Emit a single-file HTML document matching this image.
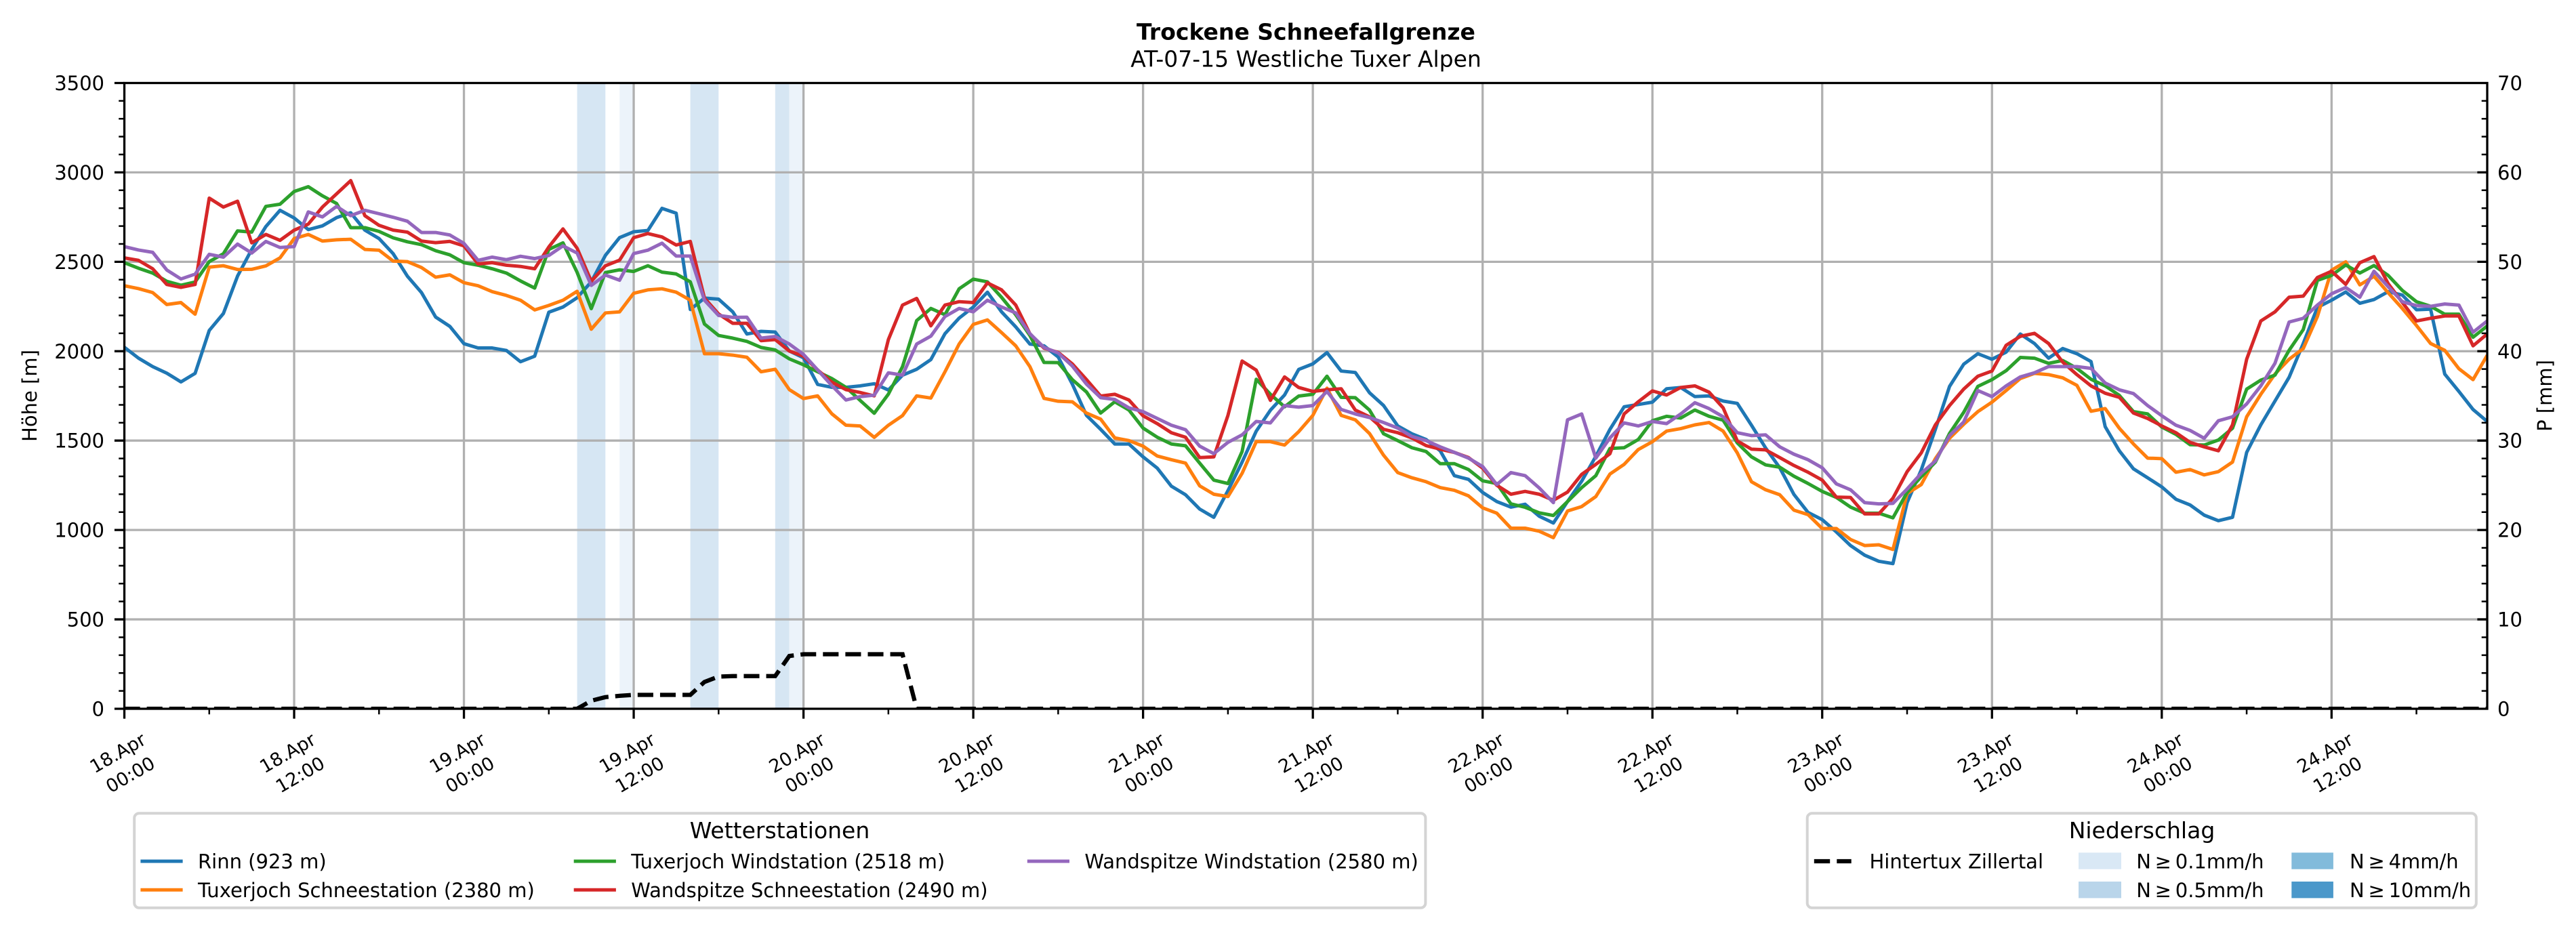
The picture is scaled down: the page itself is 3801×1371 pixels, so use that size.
<!DOCTYPE html>
<html><head><meta charset="utf-8"><style>
html,body{margin:0;padding:0;background:#fff;}
svg{display:block;}
text{font-family:"DejaVu Sans","Liberation Sans",sans-serif;fill:#000;}
</style></head><body>
<svg width="3801" height="1371" viewBox="0 0 3801 1371" xmlns="http://www.w3.org/2000/svg">
<defs><clipPath id="c"><rect x="183.5" y="122.5" width="3486.5" height="923.5"/></clipPath></defs>
<rect x="0" y="0" width="3801" height="1371" fill="#fff"/>
<text x="1927" y="58.3" font-size="33" font-weight="bold" text-anchor="middle">Trockene Schneefallgrenze</text>
<text x="1927" y="98.3" font-size="33" text-anchor="middle">AT-07-15 Westliche Tuxer Alpen</text>
<g fill="#d6e6f3">
<rect x="851.6" y="122.5" width="41.7" height="923.5"/>
<rect x="1018.6" y="122.5" width="41.7" height="923.5"/>
<rect x="1143.8" y="122.5" width="20.9" height="923.5"/>
</g>
<g fill="#ecf3fa">
<rect x="914.2" y="122.5" width="20.9" height="923.5"/>
<rect x="1164.7" y="122.5" width="20.9" height="923.5"/>
</g>
<path stroke="#b0b0b0" stroke-width="3.3" fill="none" d="M434.02,122.5V1046M684.55,122.5V1046M935.07,122.5V1046M1185.6,122.5V1046M1436.12,122.5V1046M1686.64,122.5V1046M1937.17,122.5V1046M2187.69,122.5V1046M2438.22,122.5V1046M2688.74,122.5V1046M2939.26,122.5V1046M3189.79,122.5V1046M3440.31,122.5V1046M183.5,914.07H3670M183.5,782.14H3670M183.5,650.2H3670M183.5,518.3H3670M183.5,386.4H3670M183.5,254.4H3670"/>
<g clip-path="url(#c)">
<g transform="translate(183.5 1046) scale(20.877 -0.26386)" fill="none" stroke-width="5" stroke-linejoin="round">
<polyline vector-effect="non-scaling-stroke" stroke="#1f77b4" points="0,2022 1,1961 2,1914 3,1877 4,1828 5,1876 6,2116 7,2211 8,2420 9,2569 10,2697 11,2788 12,2745 13,2680 14,2701 15,2747 16,2774 17,2677 18,2630 19,2545 20,2420 21,2328 22,2191 23,2139 24,2042 25,2018 26,2018 27,2004 28,1941 29,1972 30,2218 31,2247 32,2299 33,2388 34,2536 35,2635 36,2668 37,2675 38,2799 39,2772 40,2233 41,2297 42,2291 43,2220 44,2096 45,2111 46,2107 47,2001 48,1963 49,1814 50,1798 51,1798 52,1806 53,1818 54,1783 55,1866 56,1899 57,1953 58,2098 59,2185 60,2247 61,2330 62,2220 63,2136 64,2040 65,2030 66,1968 67,1816 68,1641 69,1563 70,1481 71,1481 72,1409 73,1346 74,1245 75,1197 76,1117 77,1071 78,1220 79,1380 80,1553 81,1670 82,1755 83,1898 84,1929 85,1992 86,1889 87,1881 88,1768 89,1696 90,1582 91,1538 92,1506 93,1443 94,1304 95,1283 96,1210 97,1159 98,1128 99,1144 100,1077 101,1039 102,1159 103,1273 104,1412 105,1563 106,1689 107,1702 108,1715 109,1790 110,1797 111,1746 112,1750 113,1721 114,1708 115,1586 116,1459 117,1348 118,1199 119,1098 120,1058 121,989 122,913 123,859 124,825 125,812 126,1153 127,1336 128,1563 129,1803 130,1927 131,1986 132,1955 133,1995 134,2096 135,2043 136,1961 137,2015 138,1986 139,1942 140,1578 141,1443 142,1342 143,1292 144,1241 145,1172 146,1140 147,1083 148,1052 149,1071 150,1434 151,1588 152,1721 153,1854 154,2043 155,2245 156,2285 157,2331 158,2268 159,2289 160,2333 161,2314 162,2232 163,2235 164,1872 165,1775 166,1674 167,1607"/>
<polyline vector-effect="non-scaling-stroke" stroke="#ff7f0e" points="0,2366 1,2350 2,2328 3,2261 4,2272 5,2207 6,2470 7,2478 8,2457 9,2458 10,2477 11,2522 12,2630 13,2653 14,2616 15,2623 16,2626 17,2569 18,2565 19,2504 20,2501 21,2468 22,2414 23,2427 24,2383 25,2366 26,2333 27,2312 28,2285 29,2231 30,2256 31,2285 32,2335 33,2123 34,2214 35,2220 36,2324 37,2343 38,2349 39,2330 40,2285 41,1986 42,1986 43,1978 44,1966 45,1885 46,1899 47,1785 48,1735 49,1750 50,1650 51,1586 52,1582 53,1518 54,1586 55,1640 56,1750 57,1738 58,1885 59,2040 60,2150 61,2175 62,2104 63,2030 64,1914 65,1736 66,1720 67,1717 68,1654 69,1620 70,1515 71,1500 72,1469 73,1414 74,1393 75,1374 76,1247 77,1200 78,1187 79,1317 80,1494 81,1494 82,1475 83,1550 84,1641 85,1793 86,1641 87,1616 88,1540 89,1418 90,1321 91,1292 92,1270 93,1237 94,1222 95,1191 96,1124 97,1094 98,1010 99,1010 100,993 101,957 102,1106 103,1131 104,1187 105,1313 106,1367 107,1450 108,1494 109,1553 110,1567 111,1588 112,1601 113,1553 114,1431 115,1270 116,1225 117,1197 118,1111 119,1086 120,1008 121,1008 122,947 123,913 124,917 125,891 126,1203 127,1254 128,1399 129,1513 130,1591 131,1662 132,1715 133,1780 134,1847 135,1876 136,1869 137,1851 138,1809 139,1664 140,1679 141,1569 142,1481 143,1402 144,1399 145,1323 146,1338 147,1308 148,1326 149,1380 150,1633 151,1759 152,1872 153,1955 154,2015 155,2194 156,2453 157,2500 158,2371 159,2419 160,2327 161,2239 162,2144 163,2043 164,2005 165,1902 166,1841 167,1977"/>
<polyline vector-effect="non-scaling-stroke" stroke="#2ca02c" points="0,2495 1,2464 2,2437 3,2391 4,2369 5,2387 6,2501 7,2545 8,2673 9,2666 10,2810 11,2822 12,2893 13,2920 14,2869 15,2826 16,2691 17,2691 18,2670 19,2634 20,2612 21,2596 22,2562 23,2539 24,2495 25,2481 26,2461 27,2437 28,2393 29,2353 30,2569 31,2606 32,2441 33,2238 34,2440 35,2455 36,2446 37,2478 38,2442 39,2432 40,2388 41,2152 42,2088 43,2073 44,2055 45,2021 46,2007 47,1957 48,1924 49,1885 50,1847 51,1798 52,1725 53,1653 54,1760 55,1914 56,2171 57,2239 58,2204 59,2349 60,2403 61,2388 62,2301 63,2204 64,2088 65,1937 66,1936 67,1841 68,1772 69,1654 70,1717 71,1671 72,1570 73,1519 74,1481 75,1471 76,1374 77,1279 78,1260 79,1439 80,1843 81,1759 82,1689 83,1749 84,1759 85,1860 86,1742 87,1740 88,1671 89,1538 90,1500 91,1460 92,1439 93,1371 94,1371 95,1338 96,1275 97,1260 98,1146 99,1127 100,1096 101,1081 102,1159 103,1237 104,1304 105,1456 106,1460 107,1506 108,1611 109,1636 110,1626 111,1671 112,1636 113,1614 114,1487 115,1409 116,1364 117,1351 118,1301 119,1260 120,1216 121,1182 122,1128 123,1094 124,1094 125,1068 126,1210 127,1298 128,1380 129,1540 130,1658 131,1803 132,1841 133,1891 134,1965 135,1961 136,1932 137,1948 138,1904 139,1843 140,1806 141,1753 142,1662 143,1649 144,1576 145,1535 146,1477 147,1475 148,1503 149,1569 150,1788 151,1838 152,1866 153,2005 154,2121 155,2396 156,2424 157,2482 158,2437 159,2479 160,2424 161,2340 162,2277 163,2251 164,2207 165,2207 166,2078 167,2141"/>
<polyline vector-effect="non-scaling-stroke" stroke="#d62728" points="0,2522 1,2508 2,2461 3,2373 4,2357 5,2373 6,2856 7,2806 8,2839 9,2606 10,2653 11,2620 12,2677 13,2711 14,2806 15,2880 16,2954 17,2758 18,2704 19,2677 20,2666 21,2616 22,2607 23,2614 24,2589 25,2488 26,2495 27,2481 28,2474 29,2461 30,2583 31,2684 32,2576 33,2391 34,2478 35,2509 36,2635 37,2658 38,2639 39,2594 40,2614 41,2297 42,2208 43,2156 44,2156 45,2059 46,2065 47,2001 48,1972 49,1895 50,1827 51,1785 52,1769 53,1750 54,2065 55,2258 56,2295 57,2142 58,2258 59,2277 60,2272 61,2382 62,2343 63,2258 64,2098 65,2017 66,1993 67,1929 68,1841 69,1749 70,1759 71,1727 72,1639 73,1595 74,1544 75,1519 76,1405 77,1409 78,1641 79,1945 80,1894 81,1725 82,1856 83,1797 84,1775 85,1784 86,1790 87,1671 88,1633 89,1563 90,1544 91,1515 92,1472 93,1452 94,1434 95,1405 96,1346 97,1250 98,1200 99,1216 100,1200 101,1166 102,1212 103,1311 104,1367 105,1427 106,1649 107,1717 108,1778 109,1755 110,1797 111,1806 112,1771 113,1683 114,1498 115,1452 116,1448 117,1405 118,1361 119,1323 120,1279 121,1184 122,1182 123,1090 124,1090 125,1178 126,1326 127,1431 128,1588 129,1696 130,1788 131,1860 132,1889 133,2033 134,2083 135,2100 136,2043 137,1939 138,1869 139,1806 140,1765 141,1742 142,1654 143,1624 144,1582 145,1544 146,1490 147,1465 148,1443 149,1588 150,1955 151,2169 152,2220 153,2302 154,2308 155,2412 156,2447 157,2374 158,2495 159,2529 160,2378 161,2273 162,2169 163,2184 164,2197 165,2197 166,2030 167,2096"/>
<polyline vector-effect="non-scaling-stroke" stroke="#9467bd" points="0,2585 1,2566 2,2553 3,2454 4,2404 5,2431 6,2542 7,2526 8,2599 9,2549 10,2614 11,2580 12,2585 13,2779 14,2751 15,2810 16,2758 17,2788 18,2769 19,2749 20,2727 21,2664 22,2664 23,2650 24,2603 25,2508 26,2526 27,2512 28,2531 29,2518 30,2535 31,2589 32,2549 33,2368 34,2426 35,2397 36,2546 37,2565 38,2604 39,2532 40,2532 41,2285 42,2200 43,2189 44,2190 45,2073 46,2082 47,2040 48,1982 49,1895 50,1808 51,1727 52,1746 53,1754 54,1879 55,1866 56,2040 57,2084 58,2194 59,2239 60,2220 61,2285 62,2247 63,2214 64,2098 65,2021 66,1990 67,1917 68,1816 69,1740 70,1730 71,1683 72,1662 73,1624 74,1586 75,1561 76,1469 77,1427 78,1490 79,1532 80,1607 81,1599 82,1696 83,1687 84,1696 85,1775 86,1674 87,1649 88,1629 89,1601 90,1570 91,1523 92,1500 93,1465 94,1434 95,1402 96,1355 97,1254 98,1321 99,1304 100,1235 101,1153 102,1616 103,1649 104,1402 105,1515 106,1599 107,1582 108,1607 109,1595 110,1649 111,1712 112,1679 113,1633 114,1544 115,1528 116,1532 117,1465 118,1424 119,1393 120,1348 121,1258 122,1225 123,1153 124,1146 125,1149 126,1229 127,1317 128,1386 129,1528 130,1604 131,1780 132,1746 133,1806 134,1856 135,1879 136,1914 137,1914 138,1914 139,1904 140,1822 141,1784 142,1763 143,1696 144,1639 145,1586 146,1557 147,1513 148,1611 149,1633 150,1705 151,1806 152,1932 153,2163 154,2184 155,2258 156,2321 157,2356 158,2302 159,2447 160,2361 161,2277 162,2255 163,2251 164,2264 165,2258 166,2106 167,2169"/>
</g>
<polyline fill="none" stroke="#000" stroke-width="6.25" stroke-dasharray="23.1 10" points="183.5,1046 851.6,1046 872.4,1034.1 893.3,1028.8 914.2,1026.9 935.1,1025.5 1018.6,1025.5 1039.4,1006.4 1060.3,998.5 1081.2,997.8 1143.8,997.8 1164.7,968.1 1185.6,965.5 1331.7,965.5 1352.6,1046 3670,1046"/>
</g>
<rect x="183.5" y="122.5" width="3486.5" height="923.5" fill="none" stroke="#000" stroke-width="3.3"/>
<path stroke="#000" stroke-width="3.3" fill="none" d="M168.9,1046H183.5M168.9,914.07H183.5M168.9,782.14H183.5M168.9,650.2H183.5M168.9,518.3H183.5M168.9,386.4H183.5M168.9,254.4H183.5M168.9,122.5H183.5M3655.4,914.07H3670M3655.4,782.14H3670M3655.4,650.2H3670M3655.4,518.3H3670M3655.4,386.4H3670M3655.4,254.4H3670M183.5,1046V1060.6M434.02,1046V1060.6M684.55,1046V1060.6M935.07,1046V1060.6M1185.6,1046V1060.6M1436.12,1046V1060.6M1686.64,1046V1060.6M1937.17,1046V1060.6M2187.69,1046V1060.6M2438.22,1046V1060.6M2688.74,1046V1060.6M2939.26,1046V1060.6M3189.79,1046V1060.6M3440.31,1046V1060.6"/>
<path stroke="#000" stroke-width="2.5" fill="none" d="M175.2,1019.61H183.5M175.2,993.23H183.5M175.2,966.84H183.5M175.2,940.46H183.5M175.2,887.68H183.5M175.2,861.3H183.5M175.2,834.91H183.5M175.2,808.53H183.5M175.2,755.75H183.5M175.2,729.37H183.5M175.2,702.98H183.5M175.2,676.6H183.5M175.2,623.82H183.5M175.2,597.44H183.5M175.2,571.05H183.5M175.2,544.67H183.5M175.2,491.89H183.5M175.2,465.51H183.5M175.2,439.12H183.5M175.2,412.74H183.5M175.2,359.96H183.5M175.2,333.58H183.5M175.2,307.19H183.5M175.2,280.81H183.5M175.2,228.03H183.5M175.2,201.65H183.5M175.2,175.26H183.5M175.2,148.88H183.5
M3661.7,1019.61H3670M3661.7,993.23H3670M3661.7,966.84H3670M3661.7,940.46H3670M3661.7,887.68H3670M3661.7,861.3H3670M3661.7,834.91H3670M3661.7,808.53H3670M3661.7,755.75H3670M3661.7,729.37H3670M3661.7,702.98H3670M3661.7,676.6H3670M3661.7,623.82H3670M3661.7,597.44H3670M3661.7,571.05H3670M3661.7,544.67H3670M3661.7,491.89H3670M3661.7,465.51H3670M3661.7,439.12H3670M3661.7,412.74H3670M3661.7,359.96H3670M3661.7,333.58H3670M3661.7,307.19H3670M3661.7,280.81H3670M3661.7,228.03H3670M3661.7,201.65H3670M3661.7,175.26H3670M3661.7,148.88H3670
M308.76,1046V1054.3M559.28,1046V1054.3M809.81,1046V1054.3M1060.33,1046V1054.3M1310.86,1046V1054.3M1561.38,1046V1054.3M1811.9,1046V1054.3M2062.43,1046V1054.3M2312.95,1046V1054.3M2563.48,1046V1054.3M2814,1046V1054.3M3064.52,1046V1054.3M3315.05,1046V1054.3M3565.57,1046V1054.3"/>
<g font-size="29" text-anchor="end">
<text x="154" y="1056.5">0</text>
<text x="154" y="924.6">500</text>
<text x="154" y="792.6">1000</text>
<text x="154" y="660.7">1500</text>
<text x="154" y="528.8">2000</text>
<text x="154" y="396.9">2500</text>
<text x="154" y="264.9">3000</text>
<text x="154" y="133">3500</text>
</g>
<g font-size="29" text-anchor="start">
<text x="3685" y="1056.5">0</text>
<text x="3685" y="924.6">10</text>
<text x="3685" y="792.6">20</text>
<text x="3685" y="660.7">30</text>
<text x="3685" y="528.8">40</text>
<text x="3685" y="396.9">50</text>
<text x="3685" y="264.9">60</text>
<text x="3685" y="133">70</text>
</g>
<text transform="translate(44 584) rotate(-90)" font-size="29" text-anchor="middle" y="10">Höhe [m]</text>
<text transform="translate(3755 584) rotate(-90)" font-size="29" text-anchor="middle" y="10">P [mm]</text>
<g font-size="27" text-anchor="middle">
<text transform="translate(183.5 1128) rotate(-30)"><tspan x="0" y="-10">18.Apr</tspan><tspan x="0" y="27">00:00</tspan></text>
<text transform="translate(434.02 1128) rotate(-30)"><tspan x="0" y="-10">18.Apr</tspan><tspan x="0" y="27">12:00</tspan></text>
<text transform="translate(684.55 1128) rotate(-30)"><tspan x="0" y="-10">19.Apr</tspan><tspan x="0" y="27">00:00</tspan></text>
<text transform="translate(935.07 1128) rotate(-30)"><tspan x="0" y="-10">19.Apr</tspan><tspan x="0" y="27">12:00</tspan></text>
<text transform="translate(1185.6 1128) rotate(-30)"><tspan x="0" y="-10">20.Apr</tspan><tspan x="0" y="27">00:00</tspan></text>
<text transform="translate(1436.12 1128) rotate(-30)"><tspan x="0" y="-10">20.Apr</tspan><tspan x="0" y="27">12:00</tspan></text>
<text transform="translate(1686.64 1128) rotate(-30)"><tspan x="0" y="-10">21.Apr</tspan><tspan x="0" y="27">00:00</tspan></text>
<text transform="translate(1937.17 1128) rotate(-30)"><tspan x="0" y="-10">21.Apr</tspan><tspan x="0" y="27">12:00</tspan></text>
<text transform="translate(2187.69 1128) rotate(-30)"><tspan x="0" y="-10">22.Apr</tspan><tspan x="0" y="27">00:00</tspan></text>
<text transform="translate(2438.22 1128) rotate(-30)"><tspan x="0" y="-10">22.Apr</tspan><tspan x="0" y="27">12:00</tspan></text>
<text transform="translate(2688.74 1128) rotate(-30)"><tspan x="0" y="-10">23.Apr</tspan><tspan x="0" y="27">00:00</tspan></text>
<text transform="translate(2939.26 1128) rotate(-30)"><tspan x="0" y="-10">23.Apr</tspan><tspan x="0" y="27">12:00</tspan></text>
<text transform="translate(3189.79 1128) rotate(-30)"><tspan x="0" y="-10">24.Apr</tspan><tspan x="0" y="27">00:00</tspan></text>
<text transform="translate(3440.31 1128) rotate(-30)"><tspan x="0" y="-10">24.Apr</tspan><tspan x="0" y="27">12:00</tspan></text>
</g>
<rect x="198.2" y="1200.3" width="1905.2" height="139.4" rx="7" fill="#fff" stroke="#d4d4d4" stroke-width="4"/>
<text x="1150.5" y="1237" font-size="33" text-anchor="middle">Wetterstationen</text>
<g stroke-width="5" fill="none">
<path stroke="#1f77b4" d="M207.4,1271H269.6"/>
<path stroke="#ff7f0e" d="M207.4,1313.3H269.6"/>
<path stroke="#2ca02c" d="M846.7,1271H908.9"/>
<path stroke="#d62728" d="M846.7,1313.3H908.9"/>
<path stroke="#9467bd" d="M1515.8,1271H1578"/>
</g>
<g font-size="29">
<text x="292" y="1281.5">Rinn (923 m)</text>
<text x="292" y="1323.8">Tuxerjoch Schneestation (2380 m)</text>
<text x="931.3" y="1281.5">Tuxerjoch Windstation (2518 m)</text>
<text x="931.3" y="1323.8">Wandspitze Schneestation (2490 m)</text>
<text x="1600.4" y="1281.5">Wandspitze Windstation (2580 m)</text>
</g>
<rect x="2666.7" y="1200.3" width="987.1" height="139.4" rx="7" fill="#fff" stroke="#d4d4d4" stroke-width="4"/>
<text x="3160.5" y="1237" font-size="33" text-anchor="middle">Niederschlag</text>
<path stroke="#000" stroke-width="6.25" d="M2676.8,1271H2700.2M2710.3,1271H2731.7"/>
<rect x="3067" y="1258.3" width="63" height="24.4" fill="#d9e8f5"/>
<rect x="3067" y="1301" width="63" height="24.4" fill="#b9d5ea"/>
<rect x="3381.3" y="1258.3" width="61.6" height="24.4" fill="#82bbdb"/>
<rect x="3381.3" y="1301" width="61.6" height="24.4" fill="#4b98ca"/>
<g font-size="29">
<text x="2758.5" y="1281.5">Hintertux Zillertal</text>
<text x="3152.2" y="1281.5">N&#8201;≥&#8201;0.1mm/h</text>
<text x="3152.2" y="1323.8">N&#8201;≥&#8201;0.5mm/h</text>
<text x="3467" y="1281.5">N&#8201;≥&#8201;4mm/h</text>
<text x="3467" y="1323.8">N&#8201;≥&#8201;10mm/h</text>
</g>
</svg>
</body></html>
